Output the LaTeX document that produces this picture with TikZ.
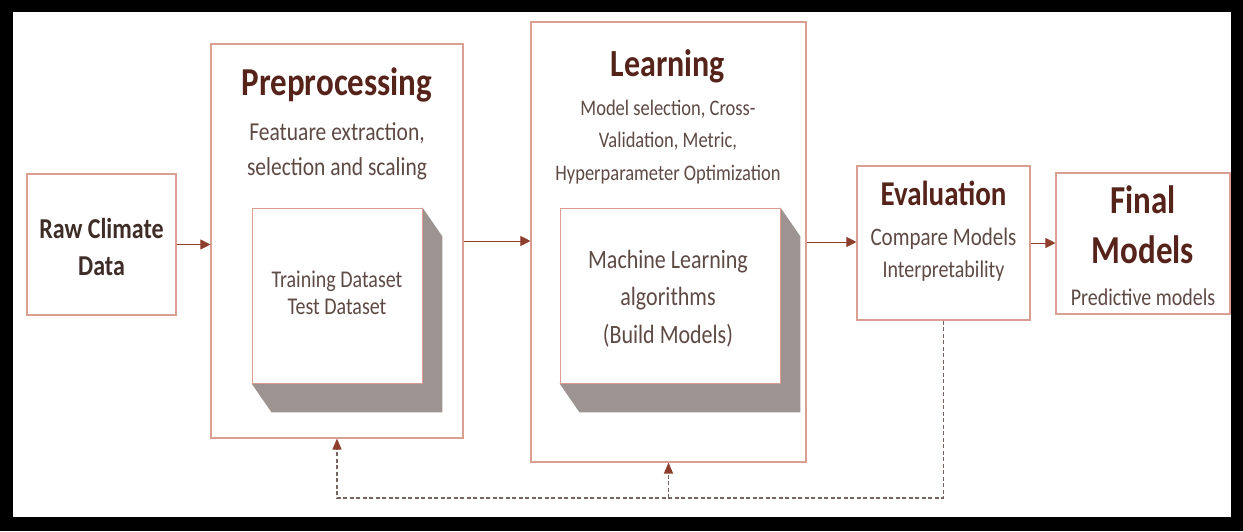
\documentclass[tikz,border=0pt]{standalone}
\usepackage{fontspec}
\setmainfont{Carlito}
\usepackage{graphicx}
\usetikzlibrary{arrows.meta,calc}

\definecolor{boxline}{HTML}{D9A092}
\definecolor{innerline}{HTML}{DC9C92}
\definecolor{depth}{HTML}{9D9491}
\definecolor{titlec}{HTML}{55231A}
\definecolor{bodyc}{HTML}{5E4A44}
\definecolor{rawc}{HTML}{3E2C27}
\definecolor{arrowc}{HTML}{8E3E2C}
\definecolor{dashc}{HTML}{756460}

% text is set slightly taller than wide
\newcommand{\tallt}[1]{\scalebox{1}[1.2]{#1}}
\newcommand{\fs}[1]{\fontsize{#1}{#1}\selectfont}

\tikzset{
  box/.style={draw=boxline, line width=1.1pt, fill=white, inner sep=0pt, rectangle},
  front/.style={draw=innerline, line width=0.9pt, fill=white, inner sep=0pt, rectangle},
  lbl/.style={inner sep=0pt, anchor=base},
  title/.style={lbl, text=titlec, font=\bfseries\fs{33}},
  body/.style={lbl, text=bodyc},
  flow/.style={draw=arrowc, line width=1pt, -{Triangle[length=10pt,width=10pt]}},
  back/.style={draw=dashc, line width=1.3pt, dash pattern=on 4pt off 2.5pt,
               -{Triangle[length=11pt,width=9pt,color=arrowc,fill=arrowc]}},
}

\begin{document}
\begin{tikzpicture}[x=1pt,y=-1pt]
\useasboundingbox (0,0) rectangle (1243,531);
% frame
\fill[black] (0,0) rectangle (1243,531);
\fill[white] (13,12) rectangle (1231,517);

% stage boxes
\node[box, minimum width=149pt, minimum height=141pt] (raw)   at (101.5,244.5) {};
\node[box, minimum width=252pt, minimum height=394pt] (pre)   at (337,241) {};
\node[box, minimum width=275pt, minimum height=440pt] (learn) at (668.5,242) {};
\node[box, minimum width=173pt, minimum height=154pt] (eval)  at (943.5,243) {};
\node[box, minimum width=174pt, minimum height=141pt] (final) at (1143,243.5) {};

% raised inner blocks
\node[front, minimum width=170pt, minimum height=175pt] (prebox) at (337,295.5) {};
\fill[depth] (prebox.north east) -- ($(prebox.north east)+(20,29)$)
  -- ($(prebox.south east)+(20,29)$) -- ($(prebox.south west)+(20,29)$)
  -- (prebox.south west) -- (prebox.south east) -- cycle;
\node[front, minimum width=170pt, minimum height=175pt] at (prebox) {};

\node[front, minimum width=220pt, minimum height=175pt] (mlbox) at (670,295.5) {};
\fill[depth] (mlbox.north east) -- ($(mlbox.north east)+(20,29)$)
  -- ($(mlbox.south east)+(20,29)$) -- ($(mlbox.south west)+(20,29)$)
  -- (mlbox.south west) -- (mlbox.south east) -- cycle;
\node[front, minimum width=220pt, minimum height=175pt] at (mlbox) {};

% texts
\node[lbl, text=rawc, font=\bfseries\fs{24}] (raw1) at (101.5,238) {\tallt{Raw Climate}};
\node[lbl, text=rawc, font=\bfseries\fs{24}] (raw2) at (101.5,275) {\tallt{Data}};

\node[title] (preT) at (337,95) {\tallt{Preprocessing}};
\node[body, font=\fs{21.5}] (preS1) at (337,140) {\tallt{Featuare extraction,}};
\node[body, font=\fs{21.5}] (preS2) at (337,175) {\tallt{selection and scaling}};
\node[body, font=\fs{20}] (preB1) at (337,287) {\tallt{Training Dataset}};
\node[body, font=\fs{20}] (preB2) at (337,314) {\tallt{Test Dataset}};

\node[title, font=\bfseries\fs{32}] (learnT) at (668,76) {\tallt{Learning}};
\node[body, font=\fs{18.5}] (learnS1) at (668,115) {\tallt{Model selection, Cross-}};
\node[body, font=\fs{18.5}] (learnS2) at (668,147) {\tallt{Validation, Metric,}};
\node[body, font=\fs{18.5}] (learnS3) at (668,180) {\tallt{Hyperparameter Optimization}};
\node[body, font=\fs{22}] (mlB1) at (668,268) {\tallt{Machine Learning}};
\node[body, font=\fs{22}] (mlB2) at (668,305) {\tallt{algorithms}};
\node[body, font=\fs{22}] (mlB3) at (668,343) {\tallt{(Build Models)}};

\node[title, font=\bfseries\fs{29}] (evalT) at (943.5,205) {\tallt{Evaluation}};
\node[body, font=\fs{21}] (evalS1) at (943.5,245) {\tallt{Compare Models}};
\node[body, font=\fs{20}] (evalS2) at (943.5,277) {\tallt{Interpretability}};

\node[title] (finalT1) at (1143,213) {\tallt{Final}};
\node[title] (finalT2) at (1143,263) {\tallt{Models}};
\node[body, font=\fs{20}] (finalS) at (1143,305) {\tallt{Predictive models}};

% forward flow
\draw[flow] (raw.east) -- (raw.east -| pre.west);
\draw[flow] (pre.east) -- (pre.east -| learn.west);
\draw[flow] (learn.east) -- (learn.east -| eval.west);
\draw[flow] (eval.east) -- (eval.east -| final.west);

% feedback loop
\coordinate (loop) at ($(eval.south |- 0,498)$);
\draw[back] (eval.south) -- (loop) -| (pre.south);
\draw[back] (loop -| learn.south) -- (learn.south);
\end{tikzpicture}
\end{document}
